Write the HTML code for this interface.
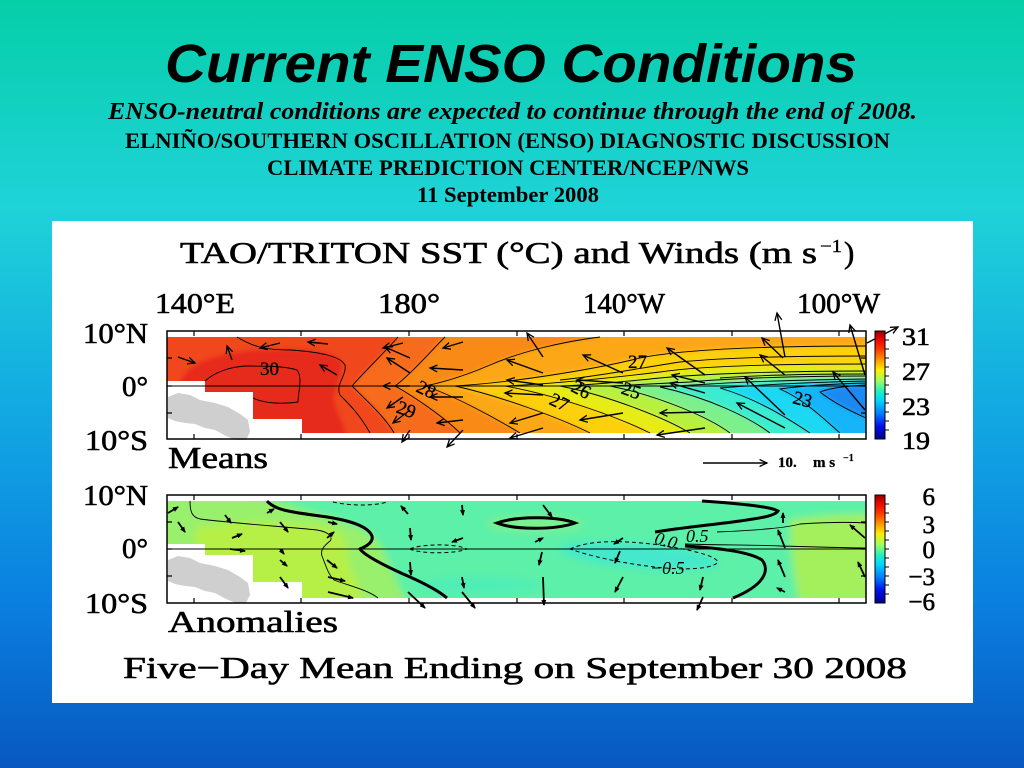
<!DOCTYPE html>
<html>
<head>
<meta charset="utf-8">
<style>
html,body{margin:0;padding:0;width:1024px;height:768px;overflow:hidden;}
svg{display:block;}
</style>
</head>
<body>
<svg width="1024" height="768" viewBox="0 0 1024 768" xmlns="http://www.w3.org/2000/svg">
<defs>
  <linearGradient id="bg" x1="0" y1="0" x2="0" y2="1">
    <stop offset="0" stop-color="#05cfa8"/>
    <stop offset="0.27" stop-color="#1fd3d8"/>
    <stop offset="0.52" stop-color="#13abe2"/>
    <stop offset="0.78" stop-color="#0a80e0"/>
    <stop offset="1" stop-color="#0858c0"/>
  </linearGradient>
  <linearGradient id="jet" x1="0" y1="0" x2="0" y2="1">
    <stop offset="0" stop-color="#8b0000"/>
    <stop offset="0.06" stop-color="#e00000"/>
    <stop offset="0.16" stop-color="#ff3000"/>
    <stop offset="0.26" stop-color="#ff9000"/>
    <stop offset="0.36" stop-color="#ffee00"/>
    <stop offset="0.46" stop-color="#a0ff60"/>
    <stop offset="0.56" stop-color="#20f0c0"/>
    <stop offset="0.64" stop-color="#00d8ff"/>
    <stop offset="0.76" stop-color="#0080ff"/>
    <stop offset="0.88" stop-color="#0010f0"/>
    <stop offset="1" stop-color="#00008b"/>
  </linearGradient>
  <clipPath id="clipU"><rect x="167" y="337" width="699" height="96"/></clipPath>
  <clipPath id="clipL"><rect x="167" y="501" width="699" height="97"/></clipPath>
  <filter id="blur" x="-5%" y="-20%" width="110%" height="140%"><feGaussianBlur stdDeviation="2.5"/></filter>
  <filter id="blur2" x="-5%" y="-20%" width="110%" height="140%"><feGaussianBlur stdDeviation="4"/></filter>
  <marker id="ah" markerWidth="9" markerHeight="9" refX="7.5" refY="4" orient="auto" markerUnits="userSpaceOnUse">
    <path d="M0,0.5 L7.5,4 L0,7.5" fill="none" stroke="#000" stroke-width="1.3"/>
  </marker>
  <marker id="ahs" markerWidth="7" markerHeight="6" refX="5" refY="2.5" orient="auto" markerUnits="userSpaceOnUse">
    <path d="M0,0 L6,2.5 L0,5 Z" fill="#000"/>
  </marker>
</defs>

<!-- background -->
<rect x="0" y="0" width="1024" height="768" fill="url(#bg)"/>

<!-- headings -->
<text x="165" y="82" font-family="Liberation Sans, sans-serif" font-weight="bold" font-style="italic" font-size="54" textLength="692" lengthAdjust="spacingAndGlyphs" fill="#000">Current ENSO Conditions</text>
<text x="108" y="119" font-family="Liberation Serif, serif" font-weight="bold" font-style="italic" font-size="24" textLength="809" lengthAdjust="spacingAndGlyphs" fill="#000">ENSO-neutral conditions are expected to continue through the end of 2008.</text>
<text x="125" y="148" font-family="Liberation Serif, serif" font-weight="bold" font-size="22" textLength="765" lengthAdjust="spacingAndGlyphs" fill="#000">ELNIÑO/SOUTHERN OSCILLATION (ENSO) DIAGNOSTIC DISCUSSION</text>
<text x="267" y="175" font-family="Liberation Serif, serif" font-weight="bold" font-size="22" textLength="482" lengthAdjust="spacingAndGlyphs" fill="#000">CLIMATE PREDICTION CENTER/NCEP/NWS</text>
<text x="417" y="202" font-family="Liberation Serif, serif" font-weight="bold" font-size="22" textLength="182" lengthAdjust="spacingAndGlyphs" fill="#000">11 September 2008</text>

<!-- white panel -->
<rect x="52" y="221" width="921" height="482" fill="#ffffff"/>

<!-- chart title & labels -->
<g font-family="Liberation Serif, serif" fill="#000" stroke="#000" stroke-width="0.6">
  <text x="180" y="263" font-size="31" textLength="637" lengthAdjust="spacingAndGlyphs">TAO/TRITON SST (°C) and Winds (m s</text>
  <text x="820" y="252" font-size="18" textLength="22" lengthAdjust="spacingAndGlyphs" stroke-width="0.4">−1</text>
  <text x="844" y="263" font-size="31">)</text>

  <text x="155" y="313" font-size="28" textLength="80" lengthAdjust="spacingAndGlyphs">140°E</text>
  <text x="378" y="313" font-size="28" textLength="62" lengthAdjust="spacingAndGlyphs">180°</text>
  <text x="583" y="313" font-size="28" textLength="82" lengthAdjust="spacingAndGlyphs">140°W</text>
  <text x="797" y="313" font-size="28" textLength="83" lengthAdjust="spacingAndGlyphs">100°W</text>

  <text x="83" y="343" font-size="28" textLength="65" lengthAdjust="spacingAndGlyphs">10°N</text>
  <text x="122" y="396" font-size="28" textLength="26" lengthAdjust="spacingAndGlyphs">0°</text>
  <text x="85" y="450" font-size="28" textLength="63" lengthAdjust="spacingAndGlyphs">10°S</text>

  <text x="83" y="505" font-size="28" textLength="65" lengthAdjust="spacingAndGlyphs">10°N</text>
  <text x="122" y="558" font-size="28" textLength="26" lengthAdjust="spacingAndGlyphs">0°</text>
  <text x="85" y="613" font-size="28" textLength="63" lengthAdjust="spacingAndGlyphs">10°S</text>

  <text x="168" y="468" font-size="31" textLength="100" lengthAdjust="spacingAndGlyphs">Means</text>
  <text x="168" y="632" font-size="31" textLength="170" lengthAdjust="spacingAndGlyphs">Anomalies</text>
  <text x="123" y="678" font-size="31" textLength="784" lengthAdjust="spacingAndGlyphs">Five−Day Mean Ending on September 30 2008</text>

  <text x="902" y="345" font-size="25" textLength="28" lengthAdjust="spacingAndGlyphs">31</text>
  <text x="902" y="380" font-size="25" textLength="28" lengthAdjust="spacingAndGlyphs">27</text>
  <text x="902" y="415" font-size="25" textLength="28" lengthAdjust="spacingAndGlyphs">23</text>
  <text x="902" y="449" font-size="25" textLength="28" lengthAdjust="spacingAndGlyphs">19</text>

  <text x="935" y="505" font-size="25" text-anchor="end">6</text>
  <text x="935" y="533" font-size="25" text-anchor="end">3</text>
  <text x="935" y="558" font-size="25" text-anchor="end">0</text>
  <text x="935" y="585" font-size="25" text-anchor="end">−3</text>
  <text x="935" y="610" font-size="25" text-anchor="end">−6</text>

  <text x="778" y="467" font-size="15" font-weight="bold" stroke-width="0.3">10.</text>
  <text x="813" y="467" font-size="15" font-weight="bold" stroke-width="0.3">m s</text>
  <text x="843" y="461" font-size="10" font-weight="bold" stroke-width="0.2">−1</text>
</g>

<!-- ================= UPPER FIELD ================= -->
<g clip-path="url(#clipU)">
 <g filter="url(#blur)">
  <rect x="150" y="325" width="730" height="120" fill="#f0461e"/>
  <path d="M180,383 C185,365 215,352 260,350 C300,348 330,350 340,360 C348,372 330,390 335,405 C340,418 345,428 350,445 L180,445 Z" fill="#e62a1a"/>
  <path d="M398,325 L398,337 C385,352 362,374 352,386 C364,398 386,418 394,433 L394,445 L880,445 L880,325 Z" fill="#f66c1c"/>
  <path d="M445,325 L445,337 C430,352 410,375 395,386 C415,397 445,418 460,433 L460,445 L880,445 L880,325 Z" fill="#f98a16"/>
  <path d="M600,325 L600,337 C560,342 520,352 490,365 C460,378 440,383 425,386 C455,396 495,418 520,433 L520,445 L880,445 L880,325 Z" fill="#fca812"/>
  <path d="M880,346 L866,346 C760,346 680,350 640,358 C600,368 520,382 455,386 C500,396 560,418 590,433 L590,445 L880,445 Z" fill="#fdd008"/>
  <path d="M880,364 L866,364 C780,364 700,366 660,372 C610,378 550,384 505,386 C560,396 620,418 650,433 L650,445 L880,445 Z" fill="#e8ec14"/>
  <path d="M880,371 L866,371 C780,371 700,374 660,378 C620,382 590,385 560,386 C610,396 665,418 690,433 L690,445 L880,445 Z" fill="#b8f040"/>
  <path d="M880,376 L866,376 C790,376 720,379 690,382 L610,386 C660,396 710,418 730,433 L730,445 L880,445 Z" fill="#7cf08c"/>
  <path d="M880,379 L866,379 C800,380 740,382 710,384 L660,387 C710,398 750,418 770,433 L770,445 L880,445 Z" fill="#3aecd0"/>
  <path d="M880,381 L866,381 C820,382 770,384 720,388 C760,400 790,420 810,433 L810,445 L880,445 Z" fill="#1cd8f2"/>
  <path d="M880,383 L866,383 C830,384 800,386 780,389 C805,400 825,420 840,433 L840,445 L880,445 Z" fill="#12b4f8"/>
  <path d="M880,385 L866,385 C845,386 830,388 820,392 C830,400 848,410 866,418 L880,420 Z" fill="#1a88f2"/>
 </g>
</g>
<!-- land mask upper -->
<path d="M167,381 L205,381 L205,392 L253,392 L253,419 L302,419 L302,434 L167,434 Z" fill="#ffffff"/>
<path d="M168,397 L178,393 L190,395 L200,400 L215,403 L228,407 L240,414 L248,420 L250,432 L246,440 L236,440 L226,436 L215,430 L205,428 L195,424 L185,423 L175,421 L168,418 Z" fill="#cfcfcf"/>

<!-- upper contours -->
<g fill="none" stroke="#000" stroke-width="0.9">
  <path d="M205,381 C215,372 230,367 245,366 C265,366 285,366 297,370 C303,378 298,392 298,402 C285,404 265,404 253,398"/>
  <path d="M237,337 C250,345 262,350 290,350 C320,352 340,356 345,365 C347,375 335,385 340,395 C350,405 360,415 370,433"/>
  <path d="M398,337 C385,352 362,374 352,386 C364,398 386,418 394,433"/>
  <path d="M445,337 C430,352 410,375 395,386 C415,397 445,418 460,433"/>
  <path d="M600,337 C560,342 520,352 490,365 C460,378 440,383 425,386 C455,396 495,418 520,433"/>
  <path d="M866,346 C760,346 680,350 640,358 C600,368 520,382 455,386 C500,396 560,418 590,433"/>
  <path d="M866,364 C780,364 700,366 660,372 C610,378 550,384 505,386 C560,396 620,418 650,433"/>
  <path d="M866,371 C780,371 700,374 660,378 C620,382 590,385 560,386 C610,396 665,418 690,433"/>
  <path d="M866,376 C790,376 720,379 690,382 L610,386 C660,396 710,418 730,433"/>
  <path d="M866,379 C800,380 740,382 710,384 L660,387 C710,398 750,418 770,433"/>
  <path d="M866,381 C820,382 770,384 720,388 C760,400 790,420 810,433"/>
  <path d="M866,383 C830,384 800,386 780,389 C805,400 825,420 840,433"/>
  <path d="M866,385 C845,386 830,388 820,392 C830,400 848,410 866,418"/>
  <path d="M866,356 C780,356 720,358 680,362 C640,368 600,376 560,380"/>
  <path d="M866,374 C800,374 760,375 720,378"/>
</g>
<!-- upper contour labels -->
<g font-family="Liberation Serif, serif" font-size="19" fill="#000" stroke="#000" stroke-width="0.3">
  <text x="260" y="375">30</text>
  <text x="417" y="396" transform="rotate(25 427 389)">28</text>
  <text x="397" y="416" transform="rotate(20 407 409)">29</text>
  <text x="628" y="368">27</text>
  <text x="572" y="396" transform="rotate(28 582 389)">26</text>
  <text x="622" y="397" transform="rotate(20 632 390)">25</text>
  <text x="550" y="409" transform="rotate(25 561 402)">27</text>
  <text x="793" y="406" transform="rotate(15 804 400)">23</text>
</g>

<!-- upper frame -->
<g fill="none" stroke="#000">
  <rect x="167" y="331" width="699" height="108" stroke-width="1.5"/>
  <line x1="167" y1="386" x2="866" y2="386" stroke-width="1"/>
  <path stroke-width="1.2" d="M194,331v5M301,331v5M409,331v5M517,331v5M624,331v5M732,331v5M839,331v5 M194,439v-5M301,439v-5M409,439v-5M517,439v-5M624,439v-5M732,439v-5M839,439v-5 M167,358h5M167,386h5M167,413h5 M866,358h-5M866,386h-5M866,413h-5"/>
</g>

<!-- upper arrows -->
<g stroke="#000" stroke-width="1.4" marker-end="url(#ah)">
  <line x1="178" y1="357" x2="195" y2="363"/>
  <line x1="232" y1="360" x2="227" y2="346"/>
  <line x1="280" y1="343" x2="260" y2="348"/>
  <line x1="328" y1="344" x2="308" y2="342"/>
  <line x1="337" y1="375" x2="320" y2="365"/>
  <line x1="403" y1="343" x2="383" y2="348"/>
  <line x1="410" y1="358" x2="385" y2="347"/>
  <line x1="410" y1="373" x2="387" y2="358"/>
  <line x1="463" y1="342" x2="443" y2="348"/>
  <line x1="410" y1="386" x2="383" y2="386"/>
  <line x1="463" y1="370" x2="430" y2="368"/>
  <line x1="463" y1="397" x2="430" y2="397"/>
  <line x1="403" y1="397" x2="387" y2="408"/>
  <line x1="410" y1="410" x2="393" y2="423"/>
  <line x1="463" y1="420" x2="437" y2="423"/>
  <line x1="410" y1="430" x2="402" y2="442"/>
  <line x1="463" y1="430" x2="447" y2="447"/>
  <line x1="543" y1="357" x2="527" y2="333"/>
  <line x1="543" y1="373" x2="507" y2="360"/>
  <line x1="623" y1="373" x2="583" y2="355"/>
  <line x1="623" y1="383" x2="577" y2="380"/>
  <line x1="543" y1="385" x2="507" y2="380"/>
  <line x1="543" y1="395" x2="505" y2="393"/>
  <line x1="705" y1="375" x2="667" y2="348"/>
  <line x1="705" y1="393" x2="670" y2="383"/>
  <line x1="705" y1="383" x2="672" y2="375"/>
  <line x1="623" y1="413" x2="580" y2="420"/>
  <line x1="705" y1="412" x2="660" y2="413"/>
  <line x1="705" y1="428" x2="657" y2="435"/>
  <line x1="543" y1="413" x2="510" y2="423"/>
  <line x1="543" y1="428" x2="510" y2="438"/>
  <line x1="785" y1="357" x2="777" y2="313"/>
  <line x1="783" y1="358" x2="762" y2="338"/>
  <line x1="785" y1="375" x2="760" y2="355"/>
  <line x1="785" y1="415" x2="745" y2="377"/>
  <line x1="785" y1="428" x2="737" y2="403"/>
  <line x1="865" y1="375" x2="850" y2="325"/>
  <line x1="865" y1="410" x2="833" y2="372"/>
  <line x1="867" y1="343" x2="898" y2="327"/>
  <line x1="703" y1="463" x2="767" y2="463"/>
</g>

<!-- upper colorbar -->
<rect x="875" y="331" width="10" height="108" fill="url(#jet)" stroke="#000" stroke-width="1"/>
<path stroke="#000" stroke-width="1" fill="none" d="M885,340h4M885,349h4M885,358h4M885,367h4M885,376h4M885,385h4M885,394h4M885,403h4M885,412h4M885,421h4M885,430h4"/>

<!-- ================= LOWER FIELD ================= -->
<g clip-path="url(#clipL)">
 <g filter="url(#blur2)">
  <rect x="150" y="490" width="730" height="120" fill="#5cf0a8"/>
  <path d="M150,490 L245,490 C280,505 330,515 360,528 C385,540 385,560 395,575 C400,590 405,598 410,610 L150,610 Z" fill="#98f06c"/>
  <path d="M195,528 C230,520 300,520 335,530 C350,540 345,555 352,570 C358,585 365,598 368,610 L195,610 Z" fill="#b6f046"/>
  <path d="M790,520 C830,514 866,514 885,514 L885,610 L800,610 C795,580 790,550 790,520 Z" fill="#a4f05c"/>
  <ellipse cx="640" cy="556" rx="80" ry="12" fill="#44e8cc" transform="rotate(5 640 556)"/>
  <ellipse cx="535" cy="524" rx="50" ry="8" fill="#7cf090"/>
  <ellipse cx="480" cy="585" rx="60" ry="8" fill="#50eeb8"/>
 </g>
</g>
<path d="M167,544 L205,544 L205,555 L253,555 L253,582 L302,582 L302,599 L167,599 Z" fill="#ffffff"/>
<path transform="translate(0,163)" d="M168,397 L178,393 L190,395 L200,400 L215,403 L228,407 L240,414 L248,420 L250,432 L246,440 L236,440 L226,436 L215,430 L205,428 L195,424 L185,423 L175,421 L168,418 Z" fill="#cfcfcf"/>

<!-- lower contours -->
<g fill="none" stroke="#000">
  <path stroke-width="0.9" d="M190,501 C190,512 192,517 200,519 C240,524 290,527 317,530 C330,532 333,538 330,541 C324,546 320,550 322,556 C326,566 328,574 334,580 C350,586 368,590 378,598"/>
  <path stroke-width="3" d="M267,501 C275,510 290,512 320,516 C350,520 368,526 372,536 C374,544 362,548 360,549 C365,556 385,566 410,577 C430,586 440,592 447,598"/>
  <path stroke-width="1" stroke-dasharray="4,3" d="M333,502 C350,506 375,506 387,502"/>
  <path stroke-width="1" stroke-dasharray="4,3" d="M410,549 C420,544 455,543 467,549 C455,554 420,554 410,549 Z"/>
  <path stroke-width="3" d="M497,523 C520,515 560,517 575,523 C555,530 515,530 497,523 Z"/>
  <path stroke-width="1" stroke-dasharray="4,3" d="M570,549 C590,540 620,540 660,545 C690,550 715,555 718,562 C712,570 680,570 655,567 C620,563 590,556 570,549 Z"/>
  <path stroke-width="3" d="M702,501 C730,503 770,506 778,511 C775,516 760,518 740,521 C710,525 680,528 655,532"/>
  <path stroke-width="3" d="M685,546 C720,548 750,552 762,560 C770,570 765,585 733,598"/>
  <path stroke-width="0.9" d="M717,532 C760,530 785,528 800,524 C830,522 850,522 866,523"/>
  <path stroke-width="0.9" d="M685,544 C720,545 760,545 780,546 C820,547 850,548 866,548"/>
</g>
<g font-family="Liberation Serif, serif" font-style="italic" font-size="18" fill="#000">
  <text x="655" y="547" transform="rotate(15 668 540)">0.0</text>
  <text x="686" y="542">0.5</text>
  <text x="650" y="574">−0.5</text>
</g>

<!-- lower frame -->
<g fill="none" stroke="#000">
  <rect x="167" y="495" width="699" height="108" stroke-width="1.5"/>
  <line x1="167" y1="549" x2="866" y2="549" stroke-width="1"/>
  <path stroke-width="1.2" d="M194,495v5M301,495v5M409,495v5M517,495v5M624,495v5M732,495v5M839,495v5 M194,603v-5M301,603v-5M409,603v-5M517,603v-5M624,603v-5M732,603v-5M839,603v-5 M167,522h5M167,549h5M167,576h5 M866,522h-5M866,549h-5M866,576h-5"/>
</g>

<!-- lower arrows -->
<g stroke="#000" stroke-width="1.8" marker-end="url(#ahs)">
  <line x1="168" y1="513" x2="178" y2="507"/>
  <line x1="178" y1="522" x2="185" y2="532"/>
  <line x1="225" y1="515" x2="231" y2="523"/>
  <line x1="232" y1="538" x2="242" y2="534"/>
  <line x1="230" y1="549" x2="245" y2="551"/>
  <line x1="267" y1="513" x2="274" y2="509"/>
  <line x1="280" y1="522" x2="288" y2="532"/>
  <line x1="280" y1="549" x2="284" y2="554"/>
  <line x1="280" y1="560" x2="287" y2="566"/>
  <line x1="280" y1="577" x2="288" y2="588"/>
  <line x1="328" y1="522" x2="337" y2="524"/>
  <line x1="327" y1="538" x2="334" y2="532"/>
  <line x1="327" y1="560" x2="337" y2="568"/>
  <line x1="328" y1="577" x2="345" y2="581"/>
  <line x1="328" y1="592" x2="353" y2="598"/>
  <line x1="408" y1="514" x2="401" y2="506"/>
  <line x1="410" y1="528" x2="411" y2="540"/>
  <line x1="410" y1="562" x2="411" y2="575"/>
  <line x1="408" y1="592" x2="425" y2="608"/>
  <line x1="462" y1="505" x2="463" y2="515"/>
  <line x1="463" y1="538" x2="452" y2="542"/>
  <line x1="462" y1="577" x2="464" y2="588"/>
  <line x1="462" y1="592" x2="475" y2="608"/>
  <line x1="543" y1="505" x2="552" y2="517"/>
  <line x1="535" y1="542" x2="543" y2="538"/>
  <line x1="542" y1="552" x2="539" y2="565"/>
  <line x1="543" y1="577" x2="544" y2="605"/>
  <line x1="623" y1="538" x2="614" y2="544"/>
  <line x1="620" y1="551" x2="615" y2="563"/>
  <line x1="623" y1="577" x2="615" y2="592"/>
  <line x1="703" y1="577" x2="700" y2="590"/>
  <line x1="703" y1="597" x2="697" y2="610"/>
  <line x1="783" y1="523" x2="783" y2="513"/>
  <line x1="785" y1="548" x2="778" y2="530"/>
  <line x1="785" y1="577" x2="778" y2="560"/>
  <line x1="785" y1="592" x2="777" y2="588"/>
  <line x1="865" y1="538" x2="850" y2="525"/>
  <line x1="865" y1="577" x2="858" y2="562"/>
</g>

<!-- lower colorbar -->
<rect x="875" y="495" width="10" height="108" fill="url(#jet)" stroke="#000" stroke-width="1"/>
<path stroke="#000" stroke-width="1" fill="none" d="M885,504h4M885,513h4M885,522h4M885,531h4M885,540h4M885,549h4M885,558h4M885,567h4M885,576h4M885,585h4M885,594h4"/>
</svg>
</body>
</html>
